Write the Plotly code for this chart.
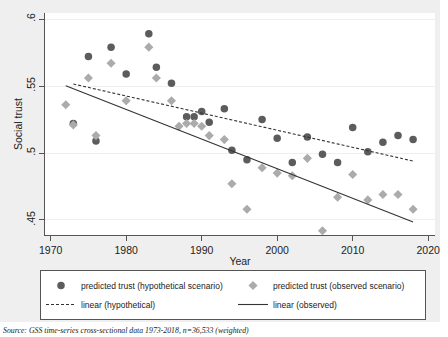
import plotly.graph_objects as go

# ---- data ----
hyp_years = [1973, 1975, 1976, 1978, 1980, 1983, 1984, 1986, 1988, 1989, 1990, 1991,
             1993, 1994, 1996, 1998, 2000, 2002, 2004, 2006, 2008, 2010, 2012, 2014,
             2016, 2018]
hyp_trust = [0.522, 0.572, 0.509, 0.579, 0.559, 0.589, 0.564, 0.552, 0.527, 0.527, 0.531, 0.523,
             0.533, 0.502, 0.495, 0.525, 0.511, 0.493, 0.512, 0.499, 0.493, 0.519, 0.501, 0.508,
             0.513, 0.510]

obs_years = [1972, 1973, 1975, 1976, 1978, 1980, 1983, 1984, 1986, 1987, 1988, 1989, 1990,
             1991, 1993, 1994, 1996, 1998, 2000, 2002, 2004, 2006, 2008, 2010, 2012, 2014,
             2016, 2018]
obs_trust = [0.536, 0.521, 0.556, 0.513, 0.567, 0.539, 0.579, 0.556, 0.539, 0.520, 0.522, 0.522, 0.520,
             0.513, 0.510, 0.477, 0.458, 0.489, 0.485, 0.483, 0.496, 0.442, 0.467, 0.484, 0.465, 0.469,
             0.469, 0.458]

lin_hyp_years = [1973, 2018]
lin_hyp_vals = [0.5515, 0.4940]
lin_obs_years = [1972, 2018]
lin_obs_vals = [0.5502, 0.4485]

x_ticks = [1970, 1980, 1990, 2000, 2010, 2020]
y_ticks = [0.45, 0.5, 0.55, 0.6]
y_tick_labels = [".45", ".5", ".55", ".6"]

W, H = 448, 337
ML, MR, MT, MB = 45, 13, 13, 102
PW, PH = W - ML - MR, H - MT - MB


def px_x(p):
    return (p - ML) / PW


def px_y(p):
    return (H - MB - p) / PH


fig = go.Figure()
fig.add_trace(go.Scatter(
    x=hyp_years, y=hyp_trust, mode="markers",
    name="predicted trust (hypothetical scenario)",
    marker=dict(symbol="circle", size=7.5, color="#5c5c5c"),
))
fig.add_trace(go.Scatter(
    x=obs_years, y=obs_trust, mode="markers",
    name="predicted trust (observed scenario)",
    marker=dict(symbol="diamond", size=7, color="#ababab"),
))
fig.add_trace(go.Scatter(
    x=lin_hyp_years, y=lin_hyp_vals, mode="lines",
    name="linear (hypothetical)",
    line=dict(color="#333333", width=1.1, dash="3px,2px"),
))
fig.add_trace(go.Scatter(
    x=lin_obs_years, y=lin_obs_vals, mode="lines",
    name="linear (observed)",
    line=dict(color="#333333", width=1.1),
))

axis_font = dict(family="Liberation Sans, Arial, sans-serif", size=10.5, color="#222222")

fig.update_layout(
    width=W, height=H,
    margin=dict(l=ML, r=MR, t=MT, b=MB, pad=0, autoexpand=False),
    paper_bgcolor="#efefef",
    plot_bgcolor="white",
    font=axis_font,
    showlegend=True,
    legend=dict(
        orientation="h",
        x=px_x(40), xanchor="left",
        y=px_y(270), yanchor="top",
        bgcolor="white", bordercolor="#555555", borderwidth=1,
        font=dict(family="Liberation Sans, Arial, sans-serif", size=8.5, color="#222222"),
        entrywidth=147, entrywidthmode="pixels",
        itemwidth=30, tracegroupgap=0,
    ),
    xaxis=dict(
        range=[1969.25, 2020.9],
        tickmode="array", tickvals=x_ticks,
        ticks="outside", ticklen=5, tickcolor="#555555",
        showline=True, linecolor="#555555", linewidth=1,
        showgrid=False, zeroline=False,
        title=dict(text="Year", font=axis_font, standoff=3),
        tickfont=axis_font,
    ),
    yaxis=dict(
        range=[0.4388, 0.6045],
        tickmode="array", tickvals=y_ticks, ticktext=y_tick_labels,
        tickangle=-90,
        ticks="outside", ticklen=5, tickcolor="#555555",
        showline=True, linecolor="#555555", linewidth=1,
        showgrid=True, gridcolor="#eeeeee", gridwidth=1,
        zeroline=False,
        title=dict(text="Social trust", font=axis_font, standoff=0),
        tickfont=axis_font,
    ),
    shapes=[
        dict(type="rect", xref="paper", yref="paper", layer="below",
             x0=px_x(0), x1=px_x(448), y0=px_y(337), y1=px_y(322),
             fillcolor="white", line=dict(width=0)),
        dict(type="rect", xref="paper", yref="paper", layer="below",
             x0=px_x(440), x1=px_x(448), y0=px_y(337), y1=px_y(0),
             fillcolor="white", line=dict(width=0)),
    ],
    annotations=[
        dict(text="<i>Source: GSS time-series cross-sectional data 1973-2018, n=36,533 (weighted)</i>",
             xref="paper", yref="paper", x=px_x(1), y=px_y(337), xanchor="left", yanchor="bottom",
             showarrow=False,
             font=dict(family="Liberation Serif, Times New Roman, serif", size=7.8, color="#222222")),
    ],
)

fig.write_html("out.html")
